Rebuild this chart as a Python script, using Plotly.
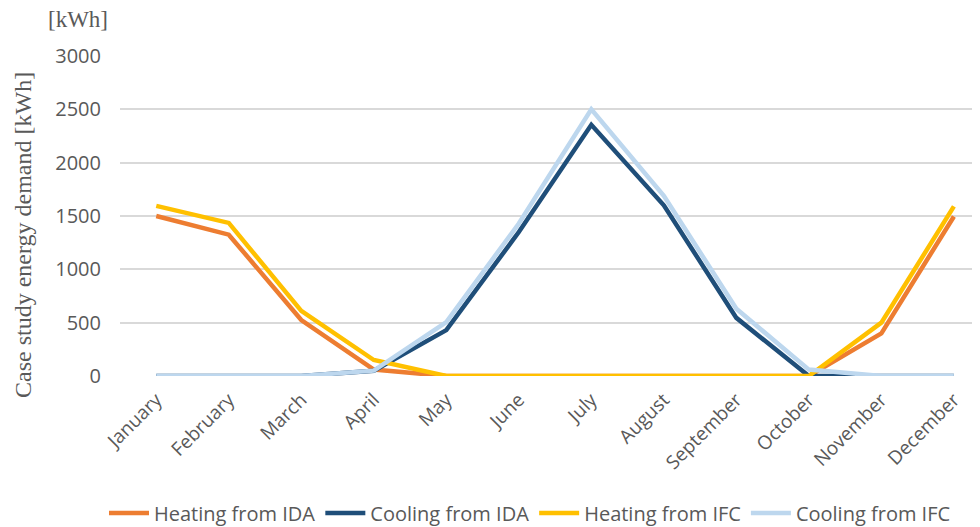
import plotly.graph_objects as go

months = ["January", "February", "March", "April", "May", "June", "July",
          "August", "September", "October", "November", "December"]
heating_ida = [1500, 1325, 525, 60, 0, 0, 0, 0, 0, 0, 400, 1495]
cooling_ida = [0, 0, 0, 50, 430, 1350, 2355, 1600, 545, 0, 0, 0]
heating_ifc = [1595, 1435, 610, 150, 0, 0, 0, 0, 0, 0, 500, 1590]
cooling_ifc = [0, 0, 0, 50, 505, 1430, 2500, 1690, 630, 60, 0, 0]

series = [
    ("Heating from IDA", heating_ida, "#ED7D31"),
    ("Cooling from IDA", cooling_ida, "#1F4E79"),
    ("Heating from IFC", heating_ifc, "#FFC000"),
    ("Cooling from IFC", cooling_ifc, "#BDD7EE"),
]

fig = go.Figure()
for name, vals, col in series:
    fig.add_trace(go.Scatter(x=months, y=vals, mode="lines", name=name,
                             line=dict(color=col, width=4.5)))

# page offset of the plot div (body margin)
OFF = 8
W, H = 980 - OFF, 527 - OFF
# target page pixels: plot left 120, top 56, bottom 376, right edge of window
L, T = 120 - OFF, 56 - OFF
B = H - (376 - OFF)
R = 0
PW, PH = W - L - R, H - T - B


def px(xpage):
    return (xpage - 120) / PW


def py(ypage):
    return (376 - ypage) / PH


fig.update_layout(
    width=W, height=H,
    margin=dict(l=L, r=R, t=T, b=B, autoexpand=False),
    plot_bgcolor="white", paper_bgcolor="white",
    font=dict(family="Open Sans, Liberation Sans, sans-serif", color="#595959"),
    showlegend=True,
    legend=dict(orientation="h", xref="container", x=(530 - OFF) / W, xanchor="center",
                yref="container", y=1 - (513 - OFF) / H, yanchor="middle",
                font=dict(size=20, color="#595959"), itemwidth=40,
                tracegroupgap=0),
    xaxis=dict(range=[-0.5, 11.36], tickangle=-45, showgrid=False, showline=False,
               ticks="", automargin=False, ticklabelstandoff=8,
               tickfont=dict(size=19, color="#595959")),
    yaxis=dict(range=[0, 3000], dtick=500, showgrid=True, gridcolor="#D9D9D9",
               gridwidth=1.5, zeroline=False, showline=False, ticks="", automargin=False,
               tickfont=dict(size=20, color="#595959"), ticklabelstandoff=18),
)
fig.add_annotation(text="Case study energy demand [kWh]", textangle=-90,
                   xref="paper", yref="paper", x=px(23), y=py(235),
                   xanchor="center", yanchor="middle",
                   showarrow=False, font=dict(family="Liberation Serif, serif", size=24,
                                              color="#595959"))
fig.add_annotation(text="[kWh]", xref="paper", yref="paper",
                   x=px(78), y=py(20), xanchor="center", yanchor="middle",
                   showarrow=False,
                   font=dict(family="Liberation Serif, serif", size=23, color="#595959"))
fig.write_html("out.html")
